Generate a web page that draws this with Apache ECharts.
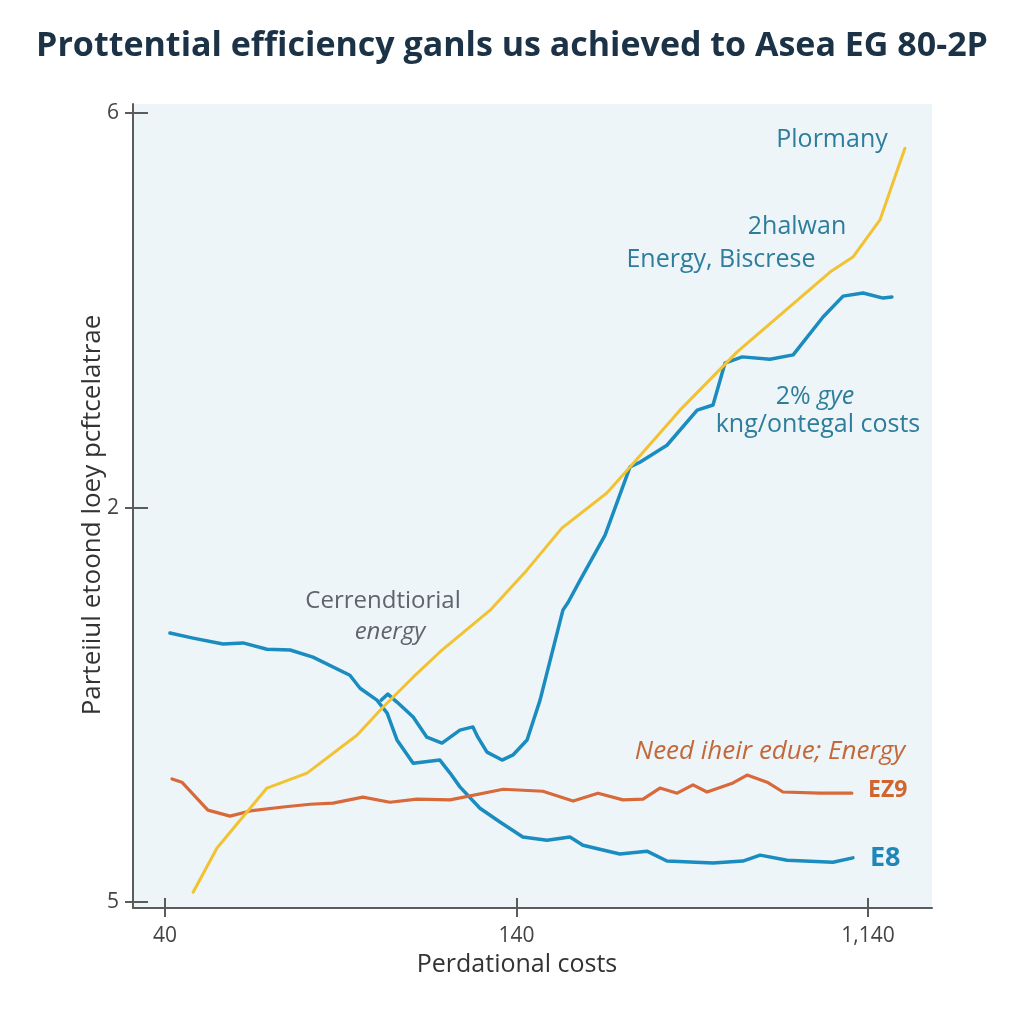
<!DOCTYPE html>
<html>
<head>
<meta charset="utf-8">
<script src="https://cdn.jsdelivr.net/npm/echarts@6/dist/echarts.min.js"></script>
<style>html,body{margin:0;padding:0;background:#fff;}#c{width:1024px;height:1024px;}</style>
</head>
<body>
<div id="c"></div>
<script>
// Tick labels (axis positions 0,1,2)
const xTickLabels = ['40', '140', '1,140'];
const yTickLabels = ['5', '2', '6'];

// Series: [x position, y position] in axis units
const yellowLine = [
  [0.080,0.025],[0.148,0.137],[0.290,0.289],[0.404,0.327],[0.546,0.423],[0.620,0.494],
  [0.706,0.570],[0.782,0.634],[0.925,0.740],[1.030,0.842],[1.129,0.948],[1.257,1.037],
  [1.323,1.103],[1.465,1.247],[1.627,1.394],[1.892,1.597],[1.957,1.635],[2.034,1.729],[2.105,1.911]
];
const blueE8 = [
  [0.014,0.682],[0.080,0.669],[0.165,0.654],[0.222,0.657],[0.290,0.641],[0.356,0.639],
  [0.421,0.621],[0.526,0.575],[0.555,0.542],[0.603,0.512],[0.632,0.479],[0.660,0.411],
  [0.706,0.352],[0.782,0.360],[0.811,0.327],[0.839,0.292],[0.896,0.238],[0.953,0.203],
  [1.018,0.165],[1.087,0.157],[1.152,0.165],[1.189,0.144],[1.294,0.122],[1.371,0.129],
  [1.428,0.104],[1.559,0.099],[1.644,0.104],[1.693,0.119],[1.770,0.106],[1.900,0.101],[1.957,0.112]
];
const blueRising = [
  [0.615,0.512],[0.634,0.527],[0.660,0.507],[0.706,0.469],[0.745,0.418],[0.788,0.403],
  [0.839,0.436],[0.876,0.444],[0.890,0.418],[0.916,0.380],[0.959,0.360],[0.990,0.373],
  [1.030,0.411],[1.067,0.512],[1.132,0.740],[1.147,0.760],[1.181,0.816],[1.252,0.930],
  [1.323,1.103],[1.351,1.115],[1.428,1.158],[1.514,1.247],[1.559,1.260],[1.593,1.366],
  [1.642,1.382],[1.721,1.376],[1.787,1.387],[1.872,1.483],[1.929,1.536],[1.986,1.544],
  [2.043,1.531],[2.068,1.534]
];
const orangeEZ9 = [
  [0.020,0.312],[0.048,0.304],[0.122,0.233],[0.185,0.218],[0.242,0.231],[0.336,0.241],
  [0.413,0.248],[0.478,0.251],[0.563,0.266],[0.640,0.253],[0.717,0.261],[0.811,0.259],
  [0.962,0.286],[1.075,0.281],[1.161,0.256],[1.232,0.276],[1.303,0.259],[1.360,0.261],
  [1.408,0.289],[1.457,0.276],[1.502,0.297],[1.542,0.279],[1.616,0.302],[1.656,0.322],
  [1.713,0.304],[1.758,0.279],[1.863,0.276],[1.954,0.276]
];

const FONT = '"Open Sans", "Noto Sans", sans-serif';
const axisColor = '#5b5b5b';
const tickVals = [0, 1, 2];
const teal = '#2e7d9c';

const chart = echarts.init(document.getElementById('c'), null, {renderer: 'canvas'});

function lineSeries(name, data, color, width) {
  return {
    name: name, type: 'line', data: data, showSymbol: false, symbol: 'none',
    smooth: false, lineStyle: {color: color, width: width, join: 'round', cap: 'round'},
    z: 3
  };
}
function label(text, x, y, size, color, extra) {
  return {type: 'text', x: x, y: y, z: 10,
    style: Object.assign({text: text, fontFamily: FONT, fontSize: size, fill: color,
      align: 'center', verticalAlign: 'middle'}, extra || {})};
}

const option = {
  backgroundColor: '#ffffff',
  animation: false,
  textStyle: {fontFamily: FONT},
  title: {
    text: 'Prottential efficiency ganls us achieved to Asea EG 80-2P',
    left: 'center', top: 24,
    textStyle: {fontFamily: FONT, fontWeight: 700, fontSize: 34, color: '#1c3246'}
  },
  grid: {
    left: 133, right: 92, top: 104, bottom: 116,
    show: true, backgroundColor: '#edf5f8', borderWidth: 0
  },
  xAxis: [{
    type: 'value', min: -0.091, max: 2.182,
    splitLine: {show: false},
    axisLine: {show: true, onZero: false, lineStyle: {color: axisColor, width: 2}},
    axisTick: {show: true, customValues: tickVals, length: 9, lineStyle: {color: axisColor, width: 2}},
    axisLabel: {
      customValues: tickVals, margin: 18, fontSize: 21, color: '#444',
      fontFamily: FONT,
      formatter: v => xTickLabels[Math.round(v)]
    }
  }, {
    type: 'value', min: -0.091, max: 2.182, position: 'bottom',
    splitLine: {show: false}, axisLine: {show: false, onZero: false},
    axisTick: {show: true, inside: true, customValues: tickVals, length: 10, lineStyle: {color: axisColor, width: 2}},
    axisLabel: {show: false}
  }],
  yAxis: [{
    type: 'value', min: -0.015, max: 2.023,
    splitLine: {show: false},
    axisLine: {show: true, onZero: false, lineStyle: {color: axisColor, width: 2}},
    axisTick: {show: true, customValues: tickVals, length: 8, lineStyle: {color: axisColor, width: 2}},
    axisLabel: {
      customValues: tickVals, margin: 14, fontSize: 21, color: '#444',
      fontFamily: FONT,
      formatter: v => yTickLabels[Math.round(v)]
    }
  }, {
    type: 'value', min: -0.015, max: 2.023, position: 'left',
    splitLine: {show: false}, axisLine: {show: false, onZero: false},
    axisTick: {show: true, inside: true, customValues: tickVals, length: 15, lineStyle: {color: axisColor, width: 2}},
    axisLabel: {show: false}
  }],
  series: [
    lineSeries('Conventional energy', blueE8, '#1a8cbf', 3.5),
    lineSeries('Rising', blueRising, '#1a8cbf', 3.5),
    lineSeries('EZ9', orangeEZ9, '#d8693a', 3.2),
    lineSeries('Plormany', yellowLine, '#f2c232', 3)
  ],
  graphic: [
    label('Parteiiul etoond loey pcftcelatrae', 93, 515, 26, '#333', {}),
    label('Perdational costs', 517, 965, 25, '#333'),
    label('Plormany', 832, 140, 25, teal),
    label('2halwan', 797, 227, 25, teal),
    label('Energy, Biscrese', 721, 260, 25, teal),
    {type: 'text', x: 815, y: 397, z: 10,
      style: {text: '{n|2% }{i|gye}', align: 'center', verticalAlign: 'middle', fill: teal,
        rich: {n: {fontFamily: FONT, fontSize: 25, fill: teal},
               i: {fontFamily: FONT, fontSize: 25, fontStyle: 'italic', fill: teal}}}},
    label('kng/ontegal costs', 818, 425, 25, teal),
    label('Cerrendtiorial', 383, 601, 24, '#5e646a'),
    label('energy', 390, 632, 24, '#5e646a', {fontStyle: 'italic'}),
    label('Need iheir edue; Energy', 770, 752, 26, '#c4683a', {fontStyle: 'italic'}),
    label('EZ9', 868, 790, 23, '#d2642f', {fontWeight: 700, align: 'left'}),
    label('E8', 870, 858, 27, '#1f86b8', {fontWeight: 700, align: 'left'})
  ]
};
option.graphic[0].rotation = Math.PI / 2;
chart.setOption(option);
</script>
</body>
</html>
